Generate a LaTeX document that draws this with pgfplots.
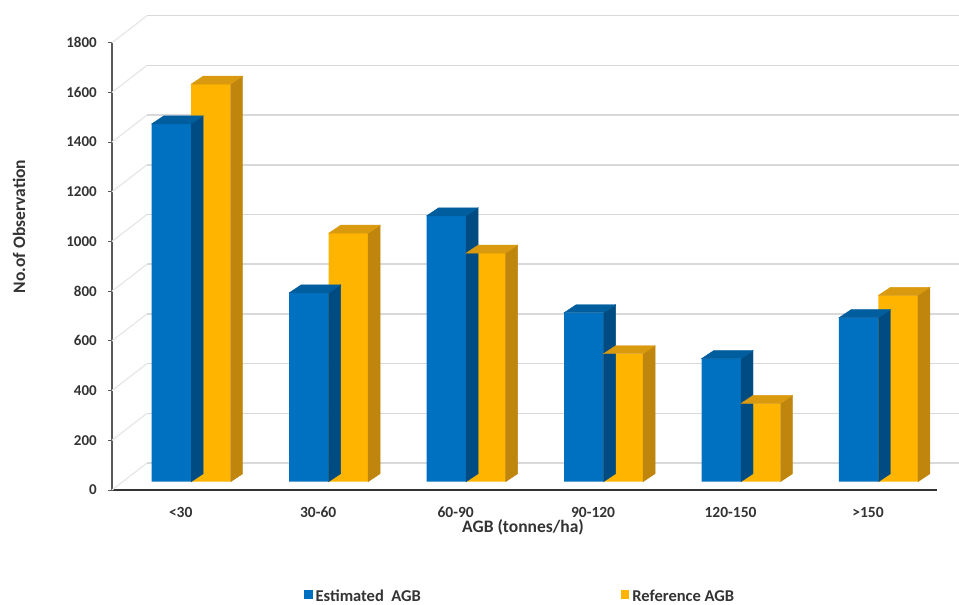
\documentclass[border=0pt]{standalone}
\usepackage{pgfplots}
\usepackage{pgfplotstable}
\pgfplotsset{compat=1.18}
\usepackage{fontspec}
\setmainfont{Carlito}

\definecolor{estF}{HTML}{0070C0}
\definecolor{estT}{HTML}{005D9E}
\definecolor{estS}{HTML}{004C82}
\definecolor{refF}{HTML}{FFB400}
\definecolor{refT}{HTML}{D99A10}
\definecolor{refS}{HTML}{C0850C}
\definecolor{wallgrid}{HTML}{D9D9D9}
\definecolor{sidegrid}{HTML}{E6E6E6}
\definecolor{axisgray}{HTML}{595959}
\definecolor{labelgray}{HTML}{333333}

% number of observations per AGB class
\pgfplotstableread{
cls est  ref
0.5 1440 1600
1.5 760  1000
2.5 1070 920
3.5 680  515
4.5 495  315
5.5 660  750
}\agbdata

\pgfdeclareplotmark{blank}{}

% column depth and offset of the column front face from the front plane
\def\depthx{12}\def\depthy{8}
\def\frontdy{8.3}
\def\yunit{0.2485} % pt per observation (447.3pt / 1800)

\pgfplotsset{
  column sides/.style n args={4}{% left, right (pt from class centre), top colour, side colour
    forget plot, scatter, only marks, mark=blank,
    visualization depends on={rawy\as\colval},
    scatter/@pre marker code/.code={%
      \pgfmathsetmacro\colh{\colval*\yunit}%
      \fill[#4] (#2pt,\frontdy pt) -- ++(\depthx pt,\depthy pt) -- ++(0pt,-\colh pt)
                -- ++(-\depthx pt,-\depthy pt) -- cycle;
      \fill[#3] (#1pt,\frontdy pt) -- ++(\depthx pt,\depthy pt) -- ++(#2pt-#1pt,0pt)
                -- (#2pt,\frontdy pt) -- cycle;
    },
    scatter/@post marker code/.code={},
  },
}

\begin{document}
\begin{tikzpicture}
\useasboundingbox (-112pt,-115pt) rectangle (847pt,490pt);
\begin{axis}[
  at={(0pt,0pt)}, anchor=south west,
  scale only axis, width=824.7pt, height=447.3pt,
  xmin=0, xmax=6, ymin=0, ymax=1800,
  clip=false,
  axis lines*=left,
  x axis line style={draw=labelgray, line width=1.5pt},
  y axis line style={draw=axisgray, line width=1.2pt},
  xtick={0.5,1.5,...,5.5},
  xticklabels={<30,30-60,60-90,90-120,120-150,>150},
  x tick style={draw=none},
  ytick={0,200,...,1800},
  tick align=outside,
  major tick length=4pt,
  y tick style={draw=axisgray, line width=1pt},
  /pgf/number format/assume math mode=true,
  /pgf/number format/1000 sep={},
  yticklabel style={font=\bfseries\fontsize{15}{18}\selectfont, text=labelgray,
    anchor=east, inner sep=0pt, xshift=-11pt},
  xticklabel style={font=\bfseries\fontsize{15.5}{18}\selectfont, text=labelgray,
    anchor=base, inner sep=0pt, yshift=-23pt},
  xlabel={AGB (tonnes/ha)},
  xlabel style={at={(axis description cs:0.4984,-0.09613)}, anchor=base,
    font=\bfseries\fontsize{17.5}{20}\selectfont, text=labelgray, inner sep=0pt},
  ylabel={No.of Observation},
  ylabel style={at={(axis description cs:-0.11277,0.58909)}, anchor=center,
    font=\bfseries\fontsize{17.5}{20}\selectfont, text=labelgray, inner sep=0pt},
  legend columns=2,
  legend style={at={(axis description cs:0.2328,-0.245)}, anchor=west,
    draw=none, fill=none, inner sep=0pt,
    font=\bfseries\fontsize{16.5}{19}\selectfont, text=labelgray,
    nodes={inner sep=0pt},
    /tikz/every odd column/.style={column sep=3pt},
    /tikz/every even column/.style={column sep=200pt}},
  legend image code/.code={\fill (0pt,-7.5pt) rectangle (8.5pt,1pt);},
]
% side wall and back wall gridlines
\pgfplotsinvokeforeach{0,200,...,1800}{
  \draw[sidegrid, line width=1.2pt] (axis cs:0,#1) -- ([xshift=35pt,yshift=27pt]axis cs:0,#1);
  \draw[wallgrid, line width=1.5pt] ([xshift=35pt,yshift=27pt]axis cs:0,#1)
        -- ([xshift=22.3pt,yshift=27pt]axis cs:6,#1);
}
% Estimated AGB columns
\addplot[column sides={-29}{10.5}{estT}{estS}] table[x=cls,y=est]{\agbdata};
\addplot[ybar, bar width=39.5pt, bar shift=-9.25pt, yshift=8.3pt, fill=estF, draw=none]
  table[x=cls,y=est]{\agbdata};
\addlegendentry{\raisebox{6.5pt}{Estimated~~AGB}}
% Reference AGB columns
\addplot[column sides={10.5}{50}{refT}{refS}] table[x=cls,y=ref]{\agbdata};
\addplot[ybar, bar width=39.5pt, bar shift=30.25pt, yshift=8.3pt, fill=refF, draw=none]
  table[x=cls,y=ref]{\agbdata};
\addlegendentry{\raisebox{6.5pt}{Reference AGB}}
\end{axis}
\end{tikzpicture}
\end{document}
